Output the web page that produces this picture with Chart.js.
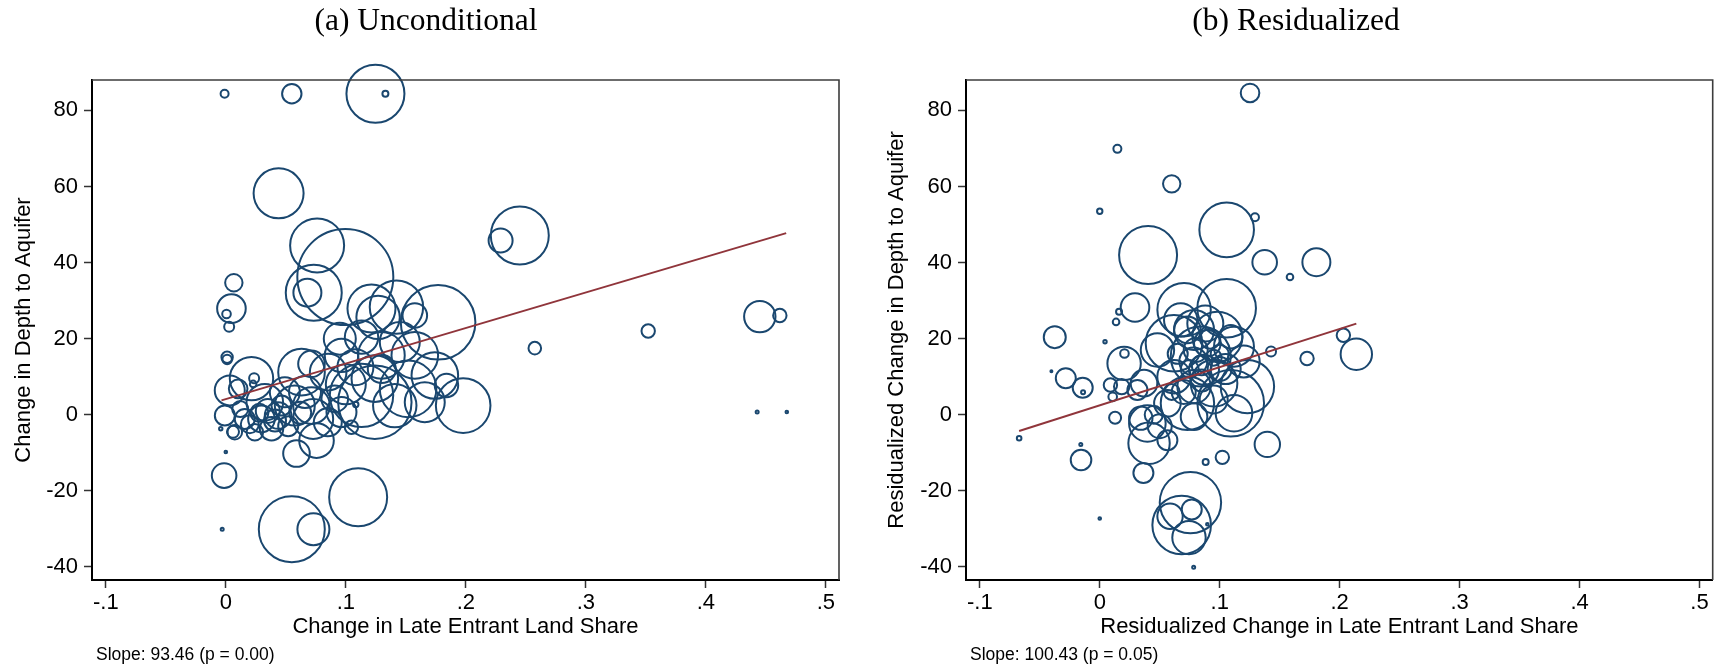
<!DOCTYPE html>
<html>
<head>
<meta charset="utf-8">
<script src="https://cdn.jsdelivr.net/npm/chart.js@4/dist/chart.umd.min.js"></script>
<style>
  html, body { margin: 0; padding: 0; background: #ffffff; }
  #wrap { position: relative; width: 1718px; height: 669px; overflow: hidden; }
  canvas { position: absolute; top: 0; }
</style>
</head>
<body>
<div id="wrap">
  <canvas id="panelA" width="859" height="669" style="left:0px"></canvas>
  <canvas id="panelB" width="859" height="669" style="left:859px"></canvas>
</div>
<script>
// ---- Panel (a): unconditional changes, one bubble per unit, weighted ----
const shareA = [
  -0.001, 0.055, 0.1247, 0.133, 0.044, 0.0761, 0.0996, 0.0733, 0.068, 0.0067,
  0.0047, 0.0006, 0.0028, 0.0011, 0.0011, 0.245, 0.229, 0.2575, 0.352, 0.445,
  0.4617, 0.4428, 0.4675, -0.003, 0.055, 0.073, 0.1214, 0.1422, 0.1269, 0.1575,
  0.1769, 0.095, 0.1131, 0.145, 0.1575, 0.1297, 0.0964, 0.0714, 0.0631, 0.0853,
  0.1242, 0.1742, 0.1519, 0.1978, 0.1242, 0.1658, 0.1131, 0.1083, 0.0214, 0.0033,
  0.0103, 0.0236, 0.0228, 0.0325, 0.0492, 0.0714, 0.0575, 0.0728, 0.0589, 0.0756,
  -0.0008, 0.0075, 0.0158, 0.0297, 0.0436, 0.0381, 0.0242, 0.0464, -0.0042, 0.0,
  -0.0014, 0.1103, 0.1047, 0.0908, 0.0964, 0.1408, 0.1839, 0.012, 0.02, 0.035,
  0.052, 0.006, 0.062, 0.085, 0.1, 0.13, 0.028, 0.041, 0.066, 0.108
];
const depthA = [
  84.4, 84.4, 84.4, 84.4, 58.2, 44.5, 36.2, 32.1, 32.1, 34.7,
  27.9, 26.5, 23.1, 15.1, 14.5, 47.1, 45.8, 17.5, 22.0, 25.8,
  26.1, 0.7, 0.7, -30.1, -30.1, -30.1, 27.9, 28.3, 25.6, 26.1,
  24.3, 20.0, 20.4, 19.1, 15.6, 15.6, 15.6, 13.4, 11.2, 11.2,
  9.5, 10.3, 6.8, 2.4, 3.3, 3.3, 5.1, 2.7, 9.5, 6.4,
  6.8, 9.6, 8.1, 3.3, 5.9, 2.4, 2.4, -1.1, -10.2, -6.8,
  -0.2, -4.6, -1.1, -1.1, -0.2, -3.7, -4.6, 2.4, -3.7, -9.8,
  -16.0, -21.7, -3.3, 4.2, 0.7, 2.4, 7.7, 1.5, -2.5, 1.0,
  -3.0, -4.5, 0.5, -2.0, 8.0, 12.0, 0.5, -1.5, 6.0, 12.5
];
const weightA = [
  4, 9.7, 29, 3, 25, 27, 48, 28, 14, 8.7,
  14.3, 4.3, 5, 5.7, 4.7, 29, 12, 6.3, 6.7, 15.7,
  6.7, 1.5, 1.3, 1.5, 33, 16, 24, 26.7, 21.7, 12.3,
  37.3, 16, 16.7, 20, 23.3, 23.3, 16.7, 13.3, 23.3, 18.3,
  23.3, 23.3, 28.3, 27.3, 36.7, 20, 31.7, 2.7, 21.7, 15,
  9.3, 5, 3.3, 18.3, 15, 18.3, 20, 20, 13.3, 17.3,
  10, 7.3, 10, 13.3, 13.3, 11.7, 8.3, 10, 1.7, 1.3,
  12.3, 29, 6.7, 13.3, 15, 21.7, 11.7, 8, 9, 12,
  10, 6, 11, 14, 20, 14, 9, 11, 16, 18
];
const slopeA = 93.46, interceptA = 4.1, fitRangeA = [-0.0036, 0.467];

// ---- Panel (b): residualized changes ----
const shareB = [
  0.1253, 0.0147, 0.06, 0.0, 0.0403, 0.1058, 0.1294, 0.1375, 0.1806, 0.1586,
  0.0294, 0.0161, 0.0136, -0.0375, 0.0044, -0.0283, -0.0142, -0.0139, -0.0403, -0.0672,
  -0.0158, -0.0156, 0.0128, 0.0203, 0.0206, 0.0089, 0.0183, 0.0108, 0.0364, 0.0883,
  0.1022, 0.1397, 0.1428, 0.1728, 0.2031, 0.2139, 0.1058, 0.0703, 0.0619, 0.1231,
  0.1092, 0.0481, 0.0369, 0.0397, 0.0342, 0.0411, 0.0564, 0.0731, 0.0953, 0.0842,
  0.0981, 0.0786, 0.1119, 0.0619, 0.0869, 0.0786, 0.1119, 0.0564, 0.0786, 0.0731,
  0.0897, 0.1092, 0.0675, 0.0314, 0.0, 0.0756, 0.0683, 0.0586, 0.0767, 0.0744,
  0.0897, 0.0783, 0.085, 0.095, 0.075, 0.1, 0.065, 0.088, 0.12, 0.045,
  0.05, 0.06, 0.08, 0.092, 0.078, 0.1, 0.085, 0.07, 0.095, 0.105
];
const depthB = [
  84.6, 69.9, 60.7, 53.5, 42.0, 48.6, 51.9, 40.1, 40.1, 36.2,
  28.2, 27.1, 24.4, 20.4, 19.2, 9.6, 7.1, 5.9, 11.4, -6.2,
  -7.8, -11.9, -0.8, 13.5, 16.1, 7.8, 7.4, 4.7, -15.3, -12.4,
  -11.2, -7.8, 16.6, 14.8, 20.9, 15.9, 28.0, 27.6, 18.8, 7.4,
  3.0, 17.0, 8.3, -2.3, -0.9, -7.5, -6.7, 3.0, 8.3, 15.3,
  20.5, 22.3, 17.9, 10.0, 11.8, 7.4, 0.4, 3.0, -0.5, 22.3,
  18.8, 20.5, 24.9, 6.5, -27.3, -23.1, -29.0, -26.7, -24.9, -32.3,
  -28.8, -40.1, 13.0, 15.0, 12.0, 12.0, 16.0, 24.0, 14.0, 0.0,
  -3.0, 6.0, 17.0, 20.0, 14.0, 16.0, 9.0, 6.0, 4.0, 12.0
];
const weightB = [
  9.3, 4, 8.7, 2.7, 29, 27.3, 4, 12.3, 14, 3.3,
  14.3, 3, 3.3, 11, 1.7, 10, 10, 2, 1, 2.3,
  1.5, 10.3, 6, 16.7, 4.3, 6.7, 7.7, 4.3, 10, 3,
  6.7, 12.7, 5, 6.7, 6.7, 15.7, 29.3, 26.7, 28.3, 26.7,
  33.3, 16.7, 13.3, 18.3, 11.7, 20.7, 10, 26.7, 23.3, 30,
  25, 20, 20, 16.7, 15, 16.7, 18.3, 13.3, 13.3, 13.3,
  13.3, 11.7, 16.7, 10, 1.3, 30.7, 29.3, 12.7, 10, 16.7,
  1.3, 1.5, 10, 8, 9, 12, 10, 18, 16, 9,
  12, 8, 12, 10, 14, 9, 11, 12, 14, 15
];
const slopeB = 100.43, interceptB = 2.46, fitRangeB = [-0.0672, 0.2139];

// ---- Shared axis ticks ----
const xTickValues = [-0.1, 0, 0.1, 0.2, 0.3, 0.4, 0.5];
const xTickLabels = ['-.1', '0', '.1', '.2', '.3', '.4', '.5'];
const yTickValues = [-40, -20, 0, 20, 40, 60, 80];
const yTickLabels = ['-40', '-20', '0', '20', '40', '60', '80'];

const NAVY = '#1a476f';
const MAROON = '#90353b';
const SANS = "'Liberation Sans', Arial, Helvetica, sans-serif";
const SERIF = "'Liberation Serif', 'Times New Roman', serif";

Chart.defaults.font.family = SANS;
Chart.defaults.color = '#000000';

// Frame on the open sides of the plot region plus panel title and slope note
const panelDecor = {
  id: 'panelDecor',
  afterDatasetsDraw(chart, args, opts) {
    const { ctx, chartArea: a } = chart;
    ctx.save();
    ctx.strokeStyle = '#3c3c3c';
    ctx.lineWidth = 1.6;
    ctx.beginPath();
    ctx.moveTo(a.left, a.top);
    ctx.lineTo(a.right, a.top);
    ctx.lineTo(a.right, a.bottom);
    ctx.stroke();
    ctx.restore();
  },
  afterDraw(chart, args, opts) {
    const { ctx } = chart;
    ctx.save();
    ctx.fillStyle = '#000000';
    ctx.textBaseline = 'middle';
    ctx.textAlign = 'center';
    ctx.font = '31.5px ' + SERIF;
    ctx.fillText(opts.title, opts.titleX, opts.titleY);
    ctx.textAlign = 'left';
    ctx.font = '17.5px ' + SANS;
    ctx.fillText(opts.note, opts.noteX, opts.noteY);
    ctx.restore();
  }
};

function makePanel(canvasId, p) {
  const bubbles = p.share.map((x, i) => ({ x: x, y: p.depth[i], r: p.weight[i] }));
  const fit = p.range.map(x => ({ x: x, y: p.intercept + p.slope * x }));
  return new Chart(document.getElementById(canvasId), {
    type: 'bubble',
    data: {
      datasets: [
        {
          type: 'line',
          data: fit,
          borderColor: MAROON,
          borderWidth: 2,
          pointRadius: 0,
          fill: false,
          order: 0
        },
        {
          type: 'bubble',
          data: bubbles,
          backgroundColor: 'rgba(0,0,0,0)',
          borderColor: NAVY,
          borderWidth: 2,
          hoverRadius: 0,
          clip: false,
          order: 1
        }
      ]
    },
    options: {
      responsive: false,
      animation: false,
      devicePixelRatio: 1,
      events: [],
      layout: {
        autoPadding: false,
        padding: { top: 80, right: p.padRight, bottom: 0, left: 0 }
      },
      plugins: {
        legend: { display: false },
        tooltip: { enabled: false },
        panelDecor: {
          title: p.title, titleX: p.titleX, titleY: 22,
          note: p.note, noteX: p.noteX, noteY: 655
        }
      },
      scales: {
        x: {
          type: 'linear',
          min: -0.1115, max: 0.511,
          afterFit(scale) {
            scale.height = 89;
            scale.paddingLeft = 0;
            scale.paddingRight = 0;
          },
          afterBuildTicks(scale) { scale.ticks = xTickValues.map(v => ({ value: v })); },
          ticks: {
            padding: 2,
            font: { size: 22 },
            color: '#000000',
            maxRotation: 0,
            autoSkip: false,
            callback: (v) => xTickLabels[xTickValues.findIndex(t => Math.abs(t - v) < 1e-9)]
          },
          grid: { drawOnChartArea: false, drawTicks: true, tickLength: 8, tickWidth: 1.5, tickColor: '#333333' },
          border: { display: true, color: '#000000', width: 2 },
          title: { display: true, text: p.xTitle, font: { size: 22 }, color: '#000000', padding: { top: 0, bottom: 29 } }
        },
        y: {
          type: 'linear',
          min: -43.45, max: 88.0,
          afterFit(scale) {
            scale.width = p.yWidth;
            scale.paddingTop = 0;
            scale.paddingBottom = 0;
          },
          afterBuildTicks(scale) { scale.ticks = yTickValues.map(v => ({ value: v })); },
          ticks: {
            padding: 6,
            font: { size: 22 },
            color: '#000000',
            autoSkip: false,
            callback: (v) => yTickLabels[yTickValues.indexOf(v)]
          },
          grid: { drawOnChartArea: false, drawTicks: true, tickLength: 8, tickWidth: 1.5, tickColor: '#333333' },
          border: { display: true, color: '#000000', width: 2 },
          title: { display: true, text: p.yTitle, font: { size: 22 }, color: '#000000', padding: { top: p.yTitlePad, bottom: 0 } }
        }
      }
    },
    plugins: [panelDecor]
  });
}

makePanel('panelA', {
  share: shareA, depth: depthA, weight: weightA,
  slope: slopeA, intercept: interceptA, range: fitRangeA,
  title: '(a) Unconditional', titleX: 426,
  note: 'Slope: ' + slopeA.toFixed(2) + ' (p = 0.00)', noteX: 96,
  xTitle: 'Change in Late Entrant Land Share',
  yTitle: 'Change in Depth to Aquifer',
  yWidth: 92, padRight: 20, yTitlePad: 10.8
});

makePanel('panelB', {
  share: shareB, depth: depthB, weight: weightB,
  slope: slopeB, intercept: interceptB, range: fitRangeB,
  title: '(b) Residualized', titleX: 437,
  note: 'Slope: ' + slopeB.toFixed(2) + ' (p = 0.05)', noteX: 111,
  xTitle: 'Residualized Change in Late Entrant Land Share',
  yTitle: 'Residualized Change in Depth to Aquifer',
  yWidth: 107, padRight: 5.3, yTitlePad: 24.8
});
</script>
</body>
</html>
